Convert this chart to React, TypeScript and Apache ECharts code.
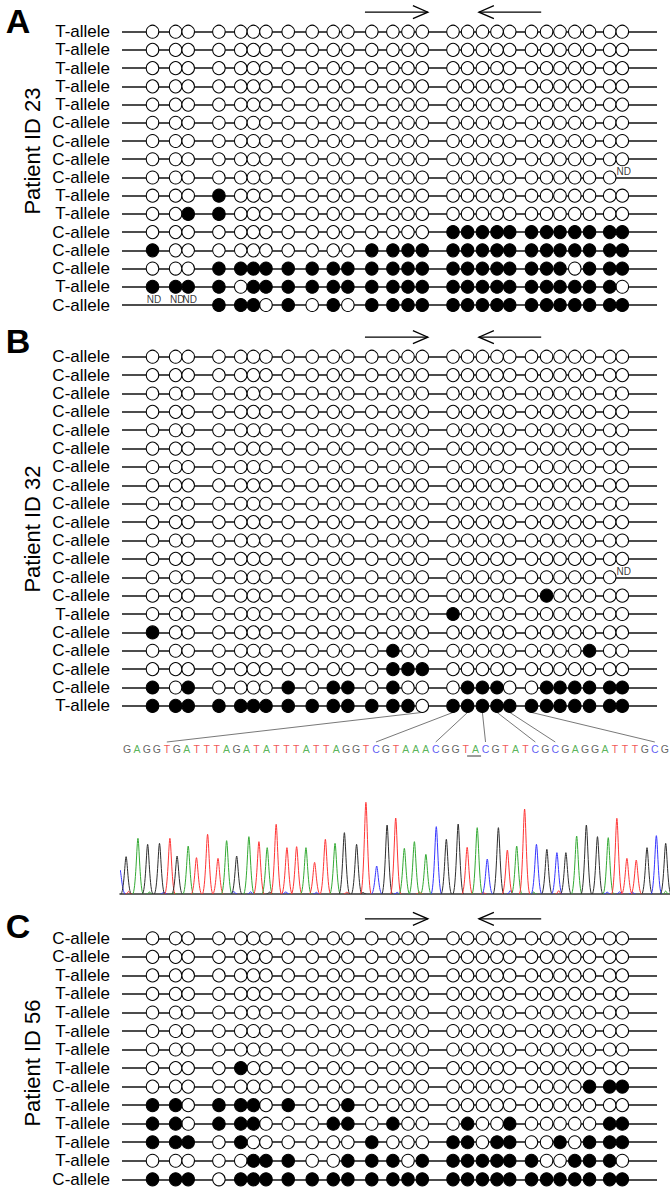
import React, { useEffect, useRef } from "react";
import * as echarts from "echarts";

const FONT = "'Liberation Sans', Arial, Helvetica, sans-serif";

// CpG site positions along the amplicon (schematic units)
const cpgPositions = [4.85, 8.52, 10.52, 15.4, 18.87, 20.88, 22.88, 26.41, 30.22, 33.56, 35.89, 39.69, 43.04, 45.44, 47.71, 52.59, 54.91, 57.26, 59.58, 61.6, 65.06, 67.46, 69.59, 71.94, 74.28, 77.49, 79.49];
const regionLength = 85;
const primerForward = [38.6, 48.6];
const primerReverse = [66.6, 56.7];

// 1 = methylated (filled), 0 = unmethylated (open), n = not determined
const Z = "000000000000000000000000000";

const panelLetters = ["A", "B", "C"];
const patientIds = ["Patient ID 23", "Patient ID 32", "Patient ID 56"];

const labelsA = ["T-allele", "T-allele", "T-allele", "T-allele", "T-allele", "C-allele", "C-allele", "C-allele", "C-allele", "T-allele", "T-allele", "C-allele", "C-allele", "C-allele", "T-allele", "C-allele"];
const patternsA = [Z, Z, Z, Z, Z, Z, Z, Z,
  "00000000000000000000000000n",
  "000100000000000000000000000",
  "001100000000000000000000000",
  "000000000000000111111111111",
  "100000000001111111111111111",
  "000111111111111111111110111",
  "111101111111111111111111110",
  "nnn111010101111111111111111"];

const labelsB = ["C-allele", "C-allele", "C-allele", "C-allele", "C-allele", "C-allele", "C-allele", "C-allele", "C-allele", "C-allele", "C-allele", "C-allele", "C-allele", "C-allele", "T-allele", "C-allele", "C-allele", "C-allele", "C-allele", "T-allele"];
const patternsB = [Z, Z, Z, Z, Z, Z, Z, Z, Z, Z, Z, Z,
  "00000000000000000000000000n",
  "000000000000000000000100000",
  "000000000000000100000000000",
  "100000000000000000000000000",
  "000000000000100000000000100",
  "000000000000111000000000000",
  "101000010110100011100111111",
  "111111111111110111111111111"];

const labelsC = ["C-allele", "C-allele", "T-allele", "T-allele", "T-allele", "T-allele", "T-allele", "T-allele", "C-allele", "T-allele", "T-allele", "T-allele", "T-allele", "C-allele"];
const patternsC = [Z, Z, Z, Z, Z, Z, Z,
  "000010000000000000000000000",
  "000000000000000000000000111",
  "110111010010000000000000000",
  "110111000110100010010000011",
  "111010000001000110110010111",
  "000001110011101111111001110",
  "111011111111111111111111111"];

// Sequence read under panel B
const sequence = "GAGGTGATTTAGATATTTATTAGGTCGTAAACGGTACGTATCGCGAGGATTTGCG";
const linkCpg = [14, 15, 16, 17, 18, 19, 20];
const linkBase = [4, 25, 31, 36, 41, 43, 53];
const underlined = [34, 35];

// Chromatogram peaks (trace position, intensity, base)
const chromPos = [28, 45, 78, 105, 138, 167, 187, 218, 241, 272, 301, 325, 353, 387, 415, 438, 463, 493, 520, 546, 570, 600, 627, 653, 687, 713, 743, 772, 796, 820, 848, 880, 909, 937, 970, 995, 1023, 1051, 1082, 1107, 1133, 1155, 1188, 1217, 1245, 1270, 1300, 1327, 1358, 1388, 1412, 1440, 1466, 1496, 1522, 1548];
const chromHeight = [72, 112, 167, 149, 152, 167, 114, 144, 109, 179, 107, 160, 114, 172, 157, 139, 209, 139, 142, 139, 95, 164, 152, 184, 149, 275, 84, 207, 228, 137, 157, 119, 202, 164, 210, 140, 199, 105, 199, 132, 144, 255, 149, 134, 124, 124, 174, 207, 172, 169, 227, 107, 102, 139, 175, 152];
const chromBase = "CGAGGTGATTTAGATATTTATTAGGTCGTAAACGGTACGTATCGCGAGGATTTGCG";
const noisePos = [52, 110, 150, 178, 345, 392, 445, 490, 575, 660, 705, 800, 862, 1040, 1115, 1180, 1250, 1385, 1420, 1455, 1548];
const noiseHeight = [8, 6, 6, 5, 8, 7, 6, 7, 5, 6, 5, 5, 6, 5, 10, 6, 10, 6, 7, 6, 9];
const noiseBase = "TACACCGCCTGCTTCATCCCA";

const letterColors: Record<string, string> = { G: "#3a3a3a", A: "#2ea02e", T: "#ee2b2b", C: "#3535f0" };
const traceColors: Record<string, string> = { G: "#2e2e2e", A: "#33aa33", T: "#ff3535", C: "#3535ff" };
const baseOrder = ["G", "A", "T", "C"];

export default function App() {
  const ref = useRef<HTMLDivElement>(null);
  useEffect(() => {
    if (!ref.current) return;
    const chart = echarts.init(ref.current, null, { renderer: "svg" });

    const panels = [
      { labels: labelsA, patterns: patternsA, top: 31.7, step: 18.22, idY: 151, letterY: 20.5 },
      { labels: labelsB, patterns: patternsB, top: 356.7, step: 18.38, idY: 529, letterY: 341 },
      { labels: labelsC, patterns: patternsC, top: 938.3, step: 18.54, idY: 1063, letterY: 926 },
    ];

    const grid: any[] = [];
    const xAxis: any[] = [];
    const yAxis: any[] = [];
    const series: any[] = [];

    panels.forEach((p, i) => {
      const n = p.labels.length;
      grid.push({ left: 122, width: 535, top: p.top, height: (n - 1) * p.step });
      xAxis.push({ gridIndex: i, type: "value", min: 0, max: regionLength, show: false });
      yAxis.push({
        gridIndex: i, type: "value", min: 0, max: n - 1, interval: 1, inverse: true,
        axisLine: { show: false }, axisTick: { show: false },
        splitLine: { show: true, lineStyle: { color: "#111", width: 1.5 } },
        axisLabel: {
          show: true, margin: 12, fontSize: 17, color: "#000", fontFamily: FONT,
          formatter: (v: number) => p.labels[Math.round(v)] ?? "",
        },
      });
      const open: number[][] = [];
      const filled: number[][] = [];
      const nd: number[][] = [];
      p.patterns.forEach((row, r) => {
        for (let k = 0; k < row.length; k++) {
          const pt = [cpgPositions[k], r];
          if (row[k] === "1") filled.push(pt);
          else if (row[k] === "n") nd.push(pt);
          else open.push(pt);
        }
      });
      series.push({
        type: "scatter", xAxisIndex: i, yAxisIndex: i, data: open, symbol: "circle",
        symbolSize: [12.5, 13], clip: false, silent: true, z: 3,
        itemStyle: { color: "#fff", borderColor: "#000", borderWidth: 1, opacity: 1 },
      });
      series.push({
        type: "scatter", xAxisIndex: i, yAxisIndex: i, data: filled, symbol: "circle",
        symbolSize: [12.5, 13], clip: false, silent: true, z: 3,
        itemStyle: { color: "#000", borderColor: "#000", borderWidth: 1, opacity: 1 },
      });
      series.push({
        type: "scatter", xAxisIndex: i, yAxisIndex: i, data: nd, symbol: "circle",
        symbolSize: 1, clip: false, silent: true, z: 3,
        itemStyle: { color: "rgba(0,0,0,0)" },
        label: { show: true, formatter: "ND", position: "inside", offset: [1.5, -6], fontSize: 10, color: "#000", fontFamily: FONT },
      });
    });

    // sequence grid (index 3)
    grid.push({ left: 127, width: 537.8, top: 744, height: 10 });
    xAxis.push({ gridIndex: 3, type: "value", min: 0, max: sequence.length - 1, show: false });
    yAxis.push({ gridIndex: 3, type: "value", min: 0, max: 1, show: false });
    series.push({
      type: "scatter", xAxisIndex: 3, yAxisIndex: 3, symbol: "circle", symbolSize: 1, clip: false, silent: true,
      itemStyle: { color: "rgba(0,0,0,0)" },
      data: sequence.split("").map((b, i) => ({ value: [i, 0.5], name: b, label: { color: letterColors[b] } })),
      label: { show: true, position: "inside", formatter: "{b}", fontSize: 10.5, fontFamily: FONT },
    });

    // chromatogram grid (index 4)
    grid.push({ left: 120, right: 0, top: 794, height: 100 });
    xAxis.push({
      gridIndex: 4, type: "value", min: 28, max: 1560, show: true,
      axisLine: { show: true, lineStyle: { color: "#333", width: 1.5 } },
      axisTick: { show: false }, axisLabel: { show: false }, splitLine: { show: false },
    });
    yAxis.push({ gridIndex: 4, type: "value", min: 0, max: 300, show: false });
    const chromData: number[][] = [];
    noisePos.forEach((p, i) => chromData.push([p, noiseHeight[i], baseOrder.indexOf(noiseBase[i]), 9]));
    chromPos.forEach((p, i) => chromData.push([p, chromHeight[i], baseOrder.indexOf(chromBase[i]), 15]));
    series.push({
      type: "custom", xAxisIndex: 4, yAxisIndex: 4, clip: true, silent: true,
      data: chromData,
      encode: { x: 0, y: 1 },
      renderItem: (params: any, api: any) => {
        const pos = api.value(0), h = api.value(1), b = api.value(2), w = api.value(3);
        const top = api.coord([pos, h]);
        const l = api.coord([pos - w, 0]);
        const r = api.coord([pos + w, 0]);
        const color = traceColors[baseOrder[b]];
        const dl = top[0] - l[0], dr = r[0] - top[0];
        const st = { stroke: color, fill: "none", lineWidth: 1 };
        return {
          type: "group",
          children: [
            { type: "bezierCurve", shape: { x1: l[0], y1: l[1], x2: top[0], y2: top[1], cpx1: l[0] + dl * 0.6, cpy1: l[1], cpx2: top[0] - dl * 0.2, cpy2: top[1] }, style: st },
            { type: "bezierCurve", shape: { x1: top[0], y1: top[1], x2: r[0], y2: r[1], cpx1: top[0] + dr * 0.2, cpy1: top[1], cpx2: r[0] - dr * 0.6, cpy2: r[1] }, style: st },
          ],
        };
      },
    });

    chart.setOption({ animation: false, backgroundColor: "#fff", grid, xAxis, yAxis, series });

    // annotations computed from the axes
    const elements: any[] = [];
    panels.forEach((p, i) => {
      elements.push({
        type: "text", x: 18, y: p.letterY,
        style: { text: panelLetters[i], font: `bold 34px ${FONT}`, fill: "#000", align: "center", textAlign: "center", verticalAlign: "middle", textVerticalAlign: "middle" },
      });
      elements.push({
        type: "text", x: 32, y: p.idY, rotation: Math.PI / 2,
        style: { text: patientIds[i], font: `22px ${FONT}`, fill: "#000", align: "center", textAlign: "center", verticalAlign: "middle", textVerticalAlign: "middle" },
      });
      const y = p.top - 19.5;
      const f1 = chart.convertToPixel({ gridIndex: i }, [primerForward[0], 0]) as number[];
      const f2 = chart.convertToPixel({ gridIndex: i }, [primerForward[1], 0]) as number[];
      const r1 = chart.convertToPixel({ gridIndex: i }, [primerReverse[0], 0]) as number[];
      const r2 = chart.convertToPixel({ gridIndex: i }, [primerReverse[1], 0]) as number[];
      const ls = { stroke: "#000", lineWidth: 1.3, fill: "none" };
      elements.push({ type: "line", shape: { x1: f1[0], y1: y, x2: f2[0], y2: y }, style: ls });
      elements.push({ type: "polyline", shape: { points: [[f2[0] - 15, y - 6.5], [f2[0], y], [f2[0] - 15, y + 6.5]] }, style: ls });
      elements.push({ type: "line", shape: { x1: r1[0], y1: y, x2: r2[0], y2: y }, style: ls });
      elements.push({ type: "polyline", shape: { points: [[r2[0] + 15, y - 6.5], [r2[0], y], [r2[0] + 15, y + 6.5]] }, style: ls });
    });
    const lastRowB = labelsB.length - 1;
    linkCpg.forEach((c, k) => {
      const s = chart.convertToPixel({ gridIndex: 1 }, [cpgPositions[c], lastRowB]) as number[];
      const e = chart.convertToPixel({ gridIndex: 3 }, [linkBase[k], 0.5]) as number[];
      elements.push({ type: "line", shape: { x1: s[0], y1: s[1] + 6.5, x2: e[0], y2: e[1] - 7 }, style: { stroke: "#555", lineWidth: 0.8 } });
    });
    const u1 = chart.convertToPixel({ gridIndex: 3 }, [underlined[0], 0.5]) as number[];
    const u2 = chart.convertToPixel({ gridIndex: 3 }, [underlined[1], 0.5]) as number[];
    elements.push({ type: "line", shape: { x1: u1[0] + 1.5, y1: u1[1] + 7, x2: u2[0] + 5.5, y2: u2[1] + 7 }, style: { stroke: "#222", lineWidth: 0.9 } });

    chart.setOption({ graphic: { elements } });
    return () => chart.dispose();
  }, []);
  return <div ref={ref} style={{ position: "absolute", left: 0, top: 0, width: 670, height: 1189, background: "#fff" }} />;
}
